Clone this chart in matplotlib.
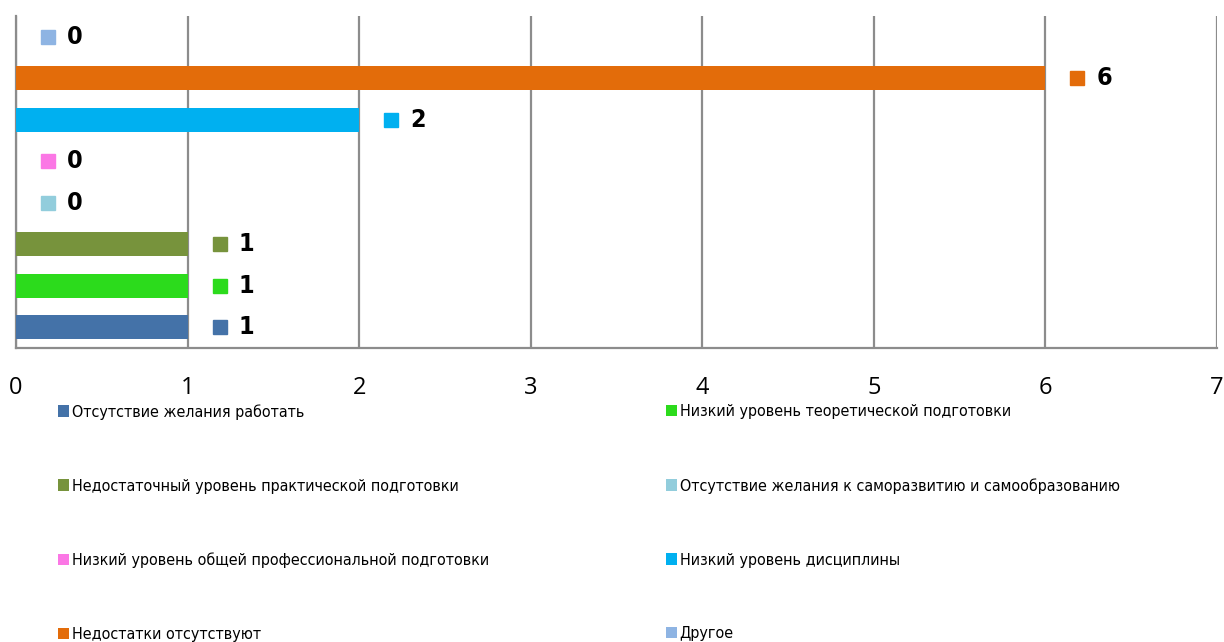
import matplotlib.pyplot as plt
from matplotlib.patches import Patch
from matplotlib.transforms import offset_copy

categories = [
    "Отсутствие желания работать",
    "Низкий уровень теоретической подготовки",
    "Недостаточный уровень практической подготовки",
    "Отсутствие желания к саморазвитию и самообразованию",
    "Низкий уровень общей профессиональной подготовки",
    "Низкий уровень дисциплины",
    "Недостатки отсутствуют",
    "Другое",
]
values = [1, 1, 1, 0, 0, 2, 6, 0]
colors = ["#4472A8", "#2CDB1C", "#77933C", "#92CDDC",
          "#FB77E5", "#00B0F0", "#E36C0A", "#8EB4E3"]
xticks = [0, 1, 2, 3, 4, 5, 6, 7]

grid_c = "#8c8c8c"

fig = plt.figure(figsize=(12.24, 6.42), dpi=100)
ax = fig.add_axes([16 / 1224, 1 - 348 / 642, 1201 / 1224, 332 / 642])

ypos = list(range(len(values)))
ax.barh(ypos, values, height=0.58, color=colors, zorder=3)

# data labels: little square + bold number
for y, v, c in zip(ypos, values, colors):
    tr = offset_copy(ax.transData, fig=fig, x=32, y=0, units="dots")
    ax.plot([v], [y], marker="s", ms=10, color=c, transform=tr,
            clip_on=False, zorder=4, linestyle="none")
    ax.annotate(str(v), (v, y), xytext=(51, 0), textcoords="offset pixels",
                ha="left", va="center", fontsize=18, fontweight="bold",
                family="DejaVu Sans", fontstretch="condensed", zorder=4)

ax.set_xlim(0, 7)
ax.set_ylim(-0.5, 7.5)
ax.set_xticks(xticks)
ax.set_xticklabels([str(t) for t in xticks], fontsize=17, family="Open Sans")
ax.tick_params(axis="x", length=0, pad=20)
ax.set_yticks([])
ax.grid(axis="x", color=grid_c, linewidth=1.6, zorder=0)
for s in ["top", "right"]:
    ax.spines[s].set_visible(False)
for s in ["left", "bottom"]:
    ax.spines[s].set_color(grid_c)
    ax.spines[s].set_linewidth(1.6)

handles = [Patch(facecolor=c, edgecolor="none") for c in colors]
left = [0, 2, 4, 6]
right = [1, 3, 5, 7]
for idx, xa in [(left, 50 / 1224), (right, 658 / 1224)]:
    leg = fig.legend([handles[i] for i in idx], [categories[i] for i in idx],
                     loc="upper left", bbox_to_anchor=(xa, 1 - 396 / 642),
                     frameon=False, handlelength=0.7, handleheight=0.7,
                     handletextpad=0.15, labelspacing=3.69, borderpad=0,
                     prop={"family": "DejaVu Sans", "stretch": "condensed", "size": 11.5})

fig.savefig("out.png", dpi=100)
